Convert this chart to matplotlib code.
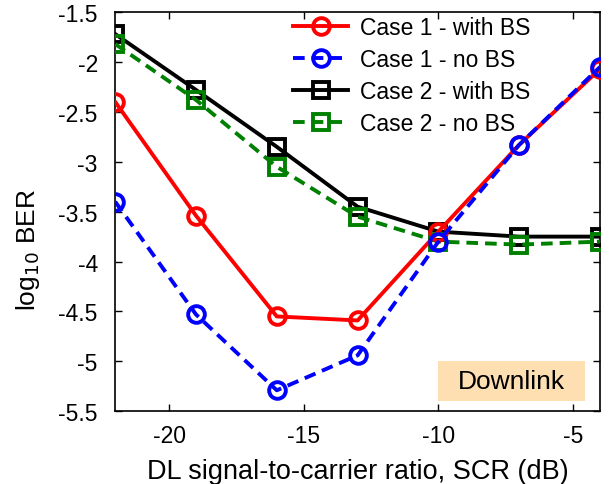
import numpy as np
import matplotlib
matplotlib.use('Agg')
import matplotlib.pyplot as plt
from matplotlib.patches import Rectangle

plt.rcParams['font.family'] = ['Liberation Sans', 'DejaVu Sans']

# datos
scr = [-22, -19, -16, -13, -10, -7, -4]
case1_bs = [-2.40, -3.54, -4.55, -4.59, -3.70, -2.83, -2.07]
case1_nobs = [-3.40, -4.53, -5.29, -4.94, -3.80, -2.83, -2.05]
case2_bs = [-1.72, -2.28, -2.85, -3.45, -3.70, -3.75, -3.75]
case2_nobs = [-1.82, -2.38, -3.05, -3.55, -3.80, -3.83, -3.80]
labels = ['Case 1 - with BS', 'Case 1 - no BS', 'Case 2 - with BS', 'Case 2 - no BS']

fig = plt.figure(figsize=(6.16, 4.85), dpi=100)
ax = fig.add_axes([0.187, 0.150, 0.787, 0.823])

ms = 12
lw = 2.8
mew = 2.8
dash = (3, 1.8)
ax.plot(scr, case2_bs, '-s', color='black', lw=lw, ms=ms, mfc='none', mew=mew, label=labels[2], zorder=3)
ax.plot(scr, case2_nobs, '--s', color='#008000', lw=lw, ms=ms, mfc='none', mew=mew, label=labels[3], zorder=3, dashes=dash)
ax.plot(scr, case1_bs, '-o', color='red', lw=lw, ms=ms, mfc='none', mew=mew, label=labels[0], zorder=4)
ax.plot(scr, case1_nobs, '--o', color='blue', lw=lw, ms=ms, mfc='none', mew=mew, label=labels[1], zorder=4, dashes=dash)

ax.set_xlim(-22, -4)
ax.set_ylim(-5.5, -1.5)
ax.set_xticks([-20, -15, -10, -5])
ax.set_yticks(np.arange(-5.5, -1.49, 0.5))
ax.set_yticklabels(['-5.5', '-5', '-4.5', '-4', '-3.5', '-3', '-2.5', '-2', '-1.5'])
ax.set_xticklabels(['-20', '-15', '-10', '-5'])
ax.tick_params(direction='in', top=True, right=True, labelsize=16.5, length=5, width=1)
ax.tick_params(axis='y', pad=12.5)
ax.tick_params(axis='x', pad=9)
for s in ax.spines.values():
    s.set_linewidth(1.2)

ax.set_xlabel('DL signal-to-carrier ratio, SCR (dB)', fontsize=19.5, labelpad=8)
ax.set_ylabel('log$_{10}$ BER', fontsize=19)
ax.yaxis.set_label_coords(-0.151, 0.4075)

h, l = ax.get_legend_handles_labels()
order = [2, 3, 0, 1]
ax.legend([h[i] for i in order], [l[i] for i in order], loc='upper right', frameon=False,
          fontsize=16.5, handlelength=2.4, handletextpad=0.5, borderaxespad=0.0,
          labelspacing=0.38, bbox_to_anchor=(0.875, 1.012))

# caja Downlink
ax.add_patch(Rectangle((-10.0, -5.4), 5.45, 0.4, fc='#FDDFB2', ec='none', zorder=1))
ax.text(-7.27, -5.2, 'Downlink', fontsize=19, ha='center', va='center', zorder=2)

fig.savefig('out.png', dpi=100)
